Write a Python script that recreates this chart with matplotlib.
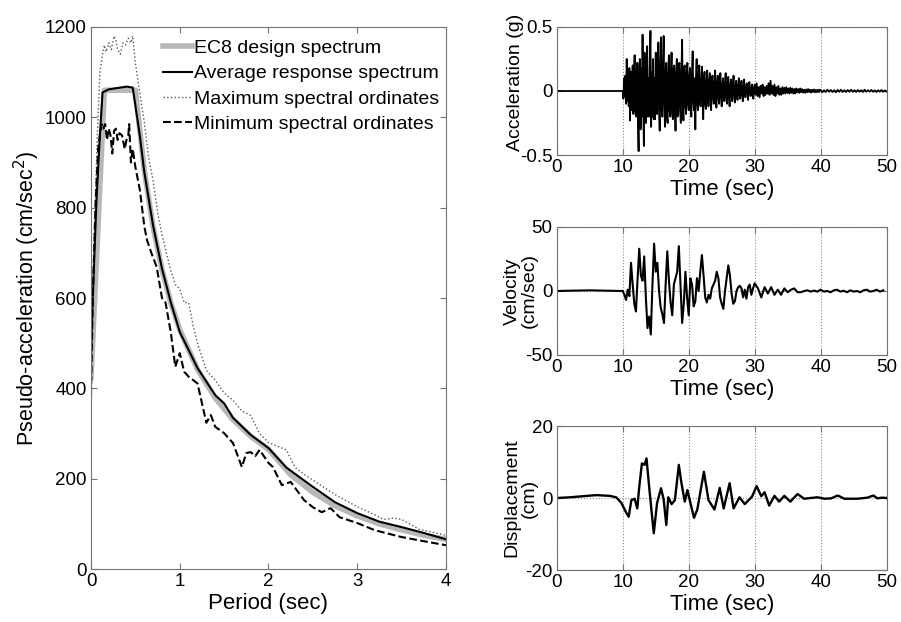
import numpy as np
import matplotlib
matplotlib.use('Agg')
import matplotlib.pyplot as plt

plt.rcParams['font.family'] = ['Liberation Sans', 'DejaVu Sans']

# ---- response spectra (left panel) ----
ec8_T = [0, 0.15, 0.5, 0.6, 0.7, 0.8, 0.9, 1.0, 1.2, 1.4, 1.6, 1.8, 2.0, 2.25,
         2.5, 2.75, 3.0, 3.25, 3.5, 3.75, 4.0]
ec8_sa = [424, 1060, 1060, 883, 757, 663, 589, 530, 442, 379, 331, 294, 265, 209,
          170, 140, 118, 100, 87, 75, 66]

avg_T = [0, 0.02, 0.06, 0.1, 0.13, 0.2, 0.3, 0.4, 0.47, 0.55, 0.6, 0.7, 0.8, 0.9,
         1.0, 1.2, 1.4, 1.5, 1.6, 1.8, 2.0, 2.2, 2.5, 2.75, 3.0, 3.25, 3.5, 3.75, 4.0]
avg_sa = [470, 600, 810, 960, 1055, 1062, 1065, 1068, 1066, 960, 880, 760, 665, 590,
          525, 445, 385, 367, 335, 297, 268, 225, 182, 148, 124, 105, 93, 80, 66]

max_T = [0, 0.03, 0.07, 0.1, 0.13, 0.15, 0.17, 0.2, 0.23, 0.26, 0.28, 0.3, 0.33,
         0.36, 0.39, 0.42, 0.45, 0.47, 0.5, 0.53, 0.56, 0.6, 0.65, 0.7, 0.75, 0.8,
         0.85, 0.9, 0.95, 1.0, 1.05, 1.1, 1.15, 1.2, 1.3, 1.4, 1.5, 1.6, 1.7, 1.8,
         1.9, 2.0, 2.1, 2.2, 2.3, 2.4, 2.5, 2.75, 3.0, 3.2, 3.3, 3.4, 3.5, 3.7, 4.0]
max_sa = [480, 700, 950, 1100, 1140, 1160, 1145, 1165, 1150, 1180, 1170, 1150, 1140,
          1165, 1160, 1175, 1165, 1180, 1120, 1080, 1040, 990, 910, 860, 790, 740,
          700, 660, 630, 620, 590, 590, 540, 500, 440, 418, 390, 374, 350, 340,
          300, 280, 272, 264, 225, 210, 197, 165, 138, 120, 110, 113, 110, 88, 75]

min_T = [0, 0.02, 0.05, 0.08, 0.1, 0.12, 0.14, 0.16, 0.18, 0.2, 0.22, 0.24, 0.26,
         0.28, 0.3, 0.32, 0.35, 0.38, 0.4, 0.42, 0.43, 0.45, 0.47, 0.5, 0.55, 0.6,
         0.63, 0.68, 0.74, 0.8, 0.84, 0.9, 0.95, 1.0, 1.05, 1.1, 1.2, 1.3, 1.35,
         1.4, 1.5, 1.6, 1.7, 1.75, 1.8, 1.85, 1.9, 2.0, 2.05, 2.15, 2.25, 2.4, 2.5,
         2.6, 2.7, 2.8, 3.0, 3.2, 3.5, 3.8, 4.0]
min_sa = [385, 600, 800, 930, 960, 985, 975, 985, 950, 975, 960, 920, 970,
          975, 950, 965, 960, 930, 950, 960, 985, 900, 930, 890, 840, 760,
          729, 700, 669, 600, 590, 523, 448, 478, 437, 426, 411, 324, 341,
          315, 301, 279, 226, 257, 259, 250, 264, 235, 226, 186, 193, 153, 137,
          126, 135, 115, 102, 86, 71, 60, 53]

# ---- ground motion time histories (right panels) ----
# acceleration (g), 0.1 s steps from 10 s to 29.9 s
acc_strong = [
    0, -0.06, 0.1, -0.04, 0.12, -0.1, 0.25, -0.08, 0.15, -0.12,
    0.18, -0.23, 0.1, 0.15, -0.15, 0.2, -0.18, 0.12, 0.28, -0.15,
    -0.2, 0.15, 0.22, -0.25, -0.47, 0.2, 0.25, -0.3, 0.18, -0.2,
    0.44, -0.1, -0.43, 0.3, -0.15, -0.25, 0.2, 0.35, -0.2, 0.1,
    -0.2, 0.25, 0.47, -0.28, 0.15, -0.2, 0.25, -0.22, 0.1, -0.22,
    0.3, -0.1, -0.18, 0.2, 0.38, -0.15, -0.31, 0.2, 0.42, -0.15,
    -0.2, 0.2, 0.43, -0.1, -0.28, 0.15, 0.22, -0.2, -0.25, 0.15,
    0.28, -0.15, -0.2, 0.12, 0.3, -0.18, -0.22, 0.18, 0.2, -0.1,
    -0.31, 0.15, 0.25, -0.2, -0.18, 0.2, 0.22, -0.15, -0.25, 0.15,
    0.40, -0.1, -0.23, 0.18, 0.2, -0.12, -0.18, 0.15, 0.22, -0.1,
    -0.15, 0.12, 0.18, -0.1, -0.2, 0.15, 0.31, -0.08, -0.15, 0.1,
    -0.30, 0.1, 0.25, -0.1, -0.15, 0.12, 0.2, -0.1, -0.12, 0.08,
    0.19, -0.08, -0.22, 0.1, 0.15, -0.1, -0.14, 0.08, 0.16, -0.06,
    -0.12, 0.08, 0.14, -0.06, -0.15, 0.08, 0.12, -0.05, -0.1, 0.06,
    0.16, -0.06, -0.13, 0.07, 0.12, -0.05, -0.1, 0.06, 0.14, -0.05,
    -0.12, 0.05, 0.1, -0.04, -0.08, 0.06, 0.14, -0.05, -0.1, 0.05,
    0.11, -0.05, -0.12, 0.04, 0.09, -0.04, -0.08, 0.05, 0.12, -0.04,
    -0.09, 0.04, 0.08, -0.03, -0.07, 0.04, 0.1, -0.03, -0.06, 0.03,
    0.08, -0.03, -0.08, 0.03, 0.09, -0.03, -0.05, 0.03, 0.06, -0.02,
    -0.07, 0.03, 0.07, -0.02, -0.04, 0.02, 0.05, -0.02, -0.06, 0.02]
# 30 s to 40 s
acc_coda1 = [
    0.05, -0.03, 0.06, -0.04, 0.03, -0.05, 0.04, -0.02, 0.05, -0.04,
    0.03, -0.03, 0.04, -0.02, 0.06, -0.03, 0.08, -0.02, 0.04, -0.03,
    0.05, -0.04, 0.03, -0.02, 0.04, -0.03, 0.02, -0.03, 0.03, -0.02,
    0.025, -0.02, 0.03, -0.015, 0.02, -0.02, 0.025, -0.015, 0.02, -0.02,
    0.015, -0.02, 0.02, -0.01, 0.015, -0.015, 0.02, -0.01, 0.015, -0.012,
    0.01, -0.015, 0.012, -0.01, 0.015, -0.008, 0.01, -0.012, 0.01, -0.008,
    0.012, -0.01, 0.008, -0.01, 0.01, -0.008, 0.01]
# 40 s to 50 s
acc_coda2 = [
    0.008, -0.01, 0.006, -0.008, 0.01, -0.006, 0.008, -0.008, 0.006, -0.01,
    0.008, -0.006, 0.01, -0.008, 0.006, -0.008, 0.008, -0.006, 0.01, -0.006,
    0.006, -0.008, 0.008, -0.005, 0.006, -0.008, 0.01, -0.006, 0.006, -0.005,
    0.008, -0.006, 0.005, -0.008, 0.006, -0.005, 0.008, -0.006, 0.005, -0.004]

# velocity (cm/sec), 0.25 s steps from 10 s, then 0.5 s steps from 30 s
vel_strong = [0, -3, -7, 1, -4, 22, 5, -10, -16, 10,
              33, 12, 8, 27, -5, -29, -20, -34, 5, 37,
              15, 22, 0, -13, -18, -25, 5, 31, 8, -9,
              -19, 5, 10, 15, 35, 5, -25, -10, 15, -5,
              -19, 10, 5, -12, -8, 10, 0, 15, 28, 12,
              -5, -9, -3, -6, 2, 5, 8, 15, 10, -5,
              -10, -14, 0, 10, 20, 12, -2, -10, -8, 0,
              3, 4, 2, -5, 1, -6, 3, 5, -3, 2]
vel_coda = [6, 2, -5, 3, -2, 3, -3, 1, -3, 2,
            -1, 1, 2, -1, -1, 0, 0.5, -0.5, 0.3, -0.5,
            1, -0.5, 0, -1, 0.5, 1, -0.5, 0.2, -1, 0.5,
            -0.5, 0, -1, 0.5, 1, -0.5, 0, 1, -0.5, 0.5]

disp_t = [0, 2, 4, 6, 8, 9, 9.8, 10.5, 10.9, 11.3, 11.8, 12.2, 12.5, 12.9, 13.3,
          13.6, 14.0, 14.7, 15.2, 15.8, 16.2, 16.6, 16.9, 17.4, 17.9, 18.5, 18.9,
          19.4, 19.8, 20.3, 20.8, 21.3, 22.3, 23.0, 23.9, 24.7, 25.3, 26.2, 26.8,
          27.7, 28.5, 29.6, 30.3, 31.0, 31.5, 32.2, 33.0, 33.7, 34.5, 35.4, 36.5,
          37.5, 39.5, 40.6, 41.6, 42.6, 43.6, 45.6, 47.1, 48.0, 48.6, 49.3, 50]
disp = [0, 0.2, 0.5, 0.8, 0.6, 0.2, -1.4, -4, -5.2, -0.6, -0.2, -2.9, 3.1, 9.6, 9.2,
        11, 3.1, -9.8, -1.4, 2.7, -0.4, -7.5, 0.2, -1.7, -0.6, 9.2, 4.1,
        -1, 2.2, -1.7, -5.5, -3.2, 7.3, -0.6, -3.2, 2.8, -2.9, 4.1, -2.9,
        0.2, -1.7, 0.4, 3.3, 0.5, 1.6, -2.1, 0.6, -1.0, 0.6, -1.0, 1.1,
        -0.2, 0.2, -0.2, -0.1, 0.7, -0.2, -0.2, 0.1, 0.7, -0.1, 0.1, 0]

acc_t = np.concatenate([[0, 9.95], np.linspace(10, 29.9, len(acc_strong)),
                        np.linspace(30, 39.9, len(acc_coda1)),
                        np.linspace(40, 50, len(acc_coda2))])
acc = np.concatenate([[0, 0], acc_strong, acc_coda1, acc_coda2])
vel_t = np.concatenate([[0, 5, 9.7], np.linspace(10, 29.75, len(vel_strong)),
                        np.linspace(30, 49.5, len(vel_coda))])
vel = np.concatenate([[0, 0.5, 0], vel_strong, vel_coda])

fig = plt.figure(figsize=(9.01, 6.22), dpi=100)
spine_col = '0.45'


def style_box(ax):
    for s in ax.spines.values():
        s.set_color(spine_col)
    ax.tick_params(direction='in', top=True, right=True, length=4,
                   color=spine_col, labelsize=13.5, pad=3)


# left: spectra
ax = fig.add_axes([0.101, 0.085, 0.394, 0.8716])
ax.plot(ec8_T, ec8_sa, color='#b8b8b8', lw=4, label='EC8 design spectrum')
ax.plot(avg_T, avg_sa, color='black', lw=1.5, label='Average response spectrum')
ax.plot(max_T, max_sa, color='0.35', lw=1, ls=':', label='Maximum spectral ordinates')
ax.plot(min_T, min_sa, color='black', lw=1.5, ls='--', label='Minimum spectral ordinates')
ax.set_xlim(0, 4)
ax.set_ylim(0, 1200)
ax.set_xticks([0, 1, 2, 3, 4])
ax.set_yticks(range(0, 1201, 200))
ax.set_xlabel('Period (sec)', fontsize=16, labelpad=2)
ax.set_ylabel('Pseudo-acceleration (cm/sec$^2$)', fontsize=15.5)
ax.yaxis.set_label_coords(-0.137, 0.5)
style_box(ax)
ax.legend(loc='upper left', bbox_to_anchor=(0.203, 0.977), frameon=False,
          fontsize=14, handlelength=1.5, handletextpad=0.1, labelspacing=0.4,
          borderaxespad=0, borderpad=0)

# right: time histories
right_axes = [
    ([0.618, 0.7508, 0.366, 0.2058], acc_t, acc, 1.3, (-0.5, 0.5), [-0.5, 0, 0.5],
     ['-0.5', '0', '0.5'], 'Acceleration (g)', (-0.1, 0.566)),
    ([0.618, 0.4293, 0.366, 0.2058], vel_t, vel, 1.5, (-50, 50), [-50, 0, 50],
     ['-50', '0', '50'], 'Velocity\n(cm/sec)', (-0.058, 0.5)),
    ([0.618, 0.0836, 0.366, 0.2315], disp_t, disp, 1.7, (-20, 20), [-20, 0, 20],
     ['-20', '0', '20'], 'Displacement\n(cm)', (-0.058, 0.5)),
]
for rect, t, y, lw, ylim, yt, ytl, lab, lxy in right_axes:
    a = fig.add_axes(rect)
    a.plot(t, y, color='black', lw=lw)
    a.set_xlim(0, 50)
    a.set_ylim(*ylim)
    a.set_xticks([0, 10, 20, 30, 40, 50])
    a.set_yticks(yt)
    a.set_yticklabels(ytl)
    a.grid(True, ls=':', color='0.55', lw=0.8)
    a.set_axisbelow(True)
    a.set_xlabel('Time (sec)', fontsize=16, labelpad=2)
    a.set_ylabel(lab, fontsize=14, linespacing=1.0)
    a.yaxis.set_label_coords(*lxy)
    style_box(a)

plt.savefig('out.png', dpi=100)
